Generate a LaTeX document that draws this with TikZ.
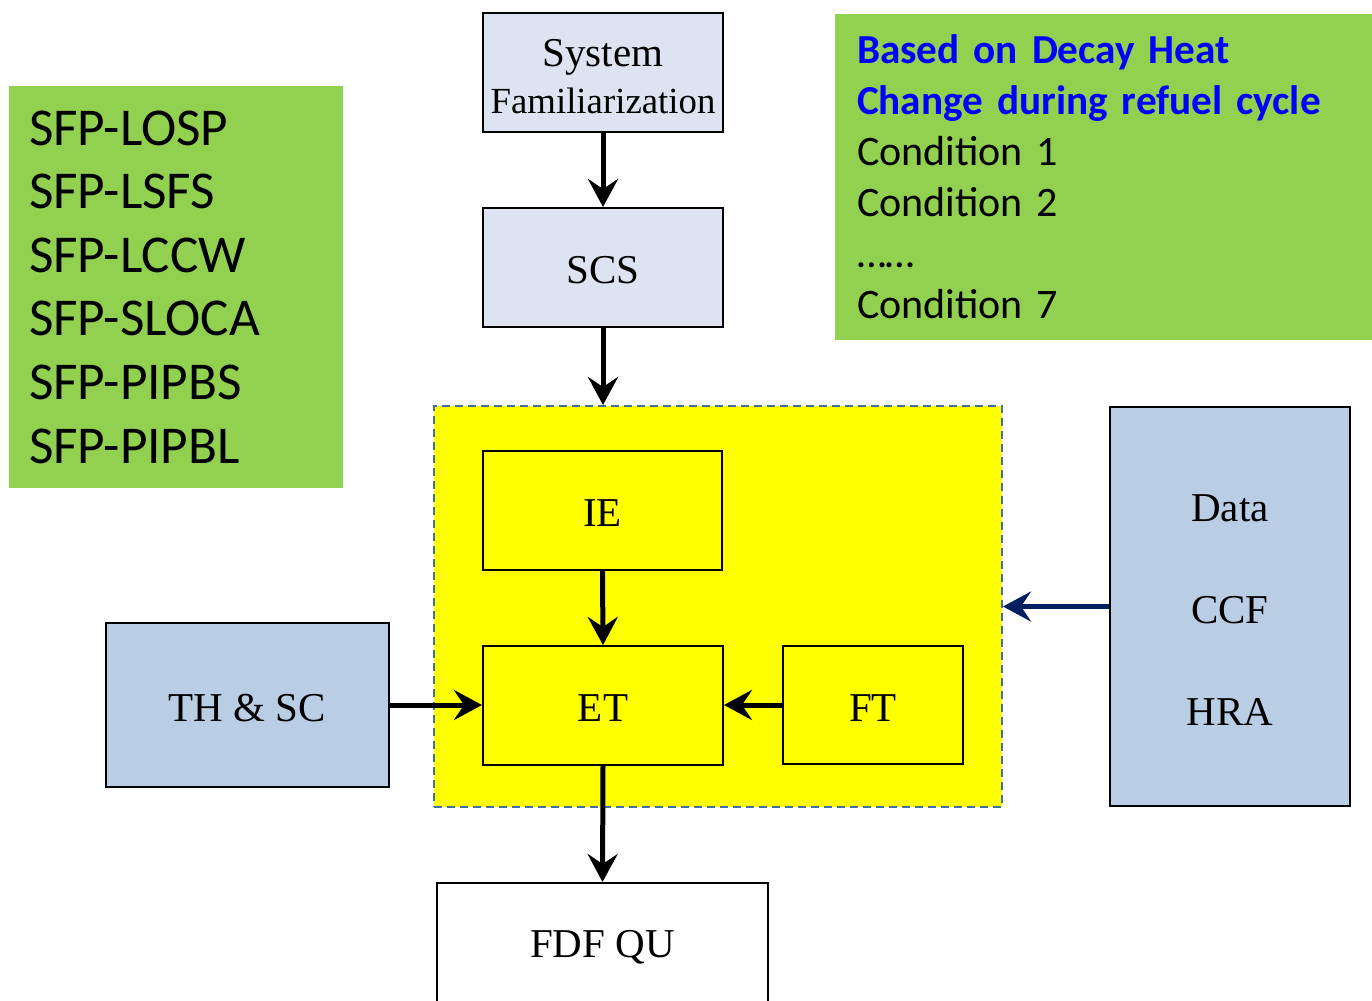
\documentclass[tikz,border=0pt]{standalone}
\usepackage{fontspec}
\setmainfont{Liberation Serif}
\newfontfamily\calib{Carlito}
\usetikzlibrary{arrows.meta}
\definecolor{lav}{HTML}{DDE3F0}
\definecolor{bgrey}{HTML}{B9CDE5}
\definecolor{grn}{HTML}{92D050}
\definecolor{yel}{HTML}{FFFF00}
\definecolor{dashc}{HTML}{41719C}
\definecolor{navy}{HTML}{002060}
\definecolor{pureblue}{HTML}{0000FF}
\newcommand\lowr[2][1.5pt]{\raisebox{-#1}[\height][\depth]{#2}}
\tikzset{
  box/.style={draw=black, line width=1pt, inner sep=0pt, align=center,
    font=\fontsize{20.5}{24}\selectfont},
  greenbox/.style={fill=grn, inner sep=0pt, align=left, text width=#1},
  flow/.style={line width=2.5pt, -{Stealth[length=14pt,width=15pt,inset=5pt]}},
}
\begin{document}
\begin{tikzpicture}[x=0.5pt,y=-0.5pt]
\useasboundingbox (0,0) rectangle (1372,1001);
\clip (0,0) rectangle (1372,1001);
% green info boxes
\node[greenbox=147pt, minimum width=167pt, minimum height=201pt,
  font=\calib\fontsize{26.6}{31.8}\selectfont] (losp) at (176,287)
  {SFP-LOSP\\SFP-LSFS\\SFP-LCCW\\SFP-SLOCA\\SFP-PIPBS\\SFP-PIPBL};
\node[greenbox=246.5pt, minimum width=268.5pt, minimum height=163pt,
  font=\calib\fontsize{21}{25.5}\selectfont] (decay) at (1103.5,177)
  {{\fontsize{20.6}{25.5}\selectfont\bfseries\color{pureblue}Based on Decay Heat}\\
   {\fontsize{20.6}{25.5}\selectfont\bfseries\color{pureblue}Change during refuel cycle}\\
   Condition 1\\Condition 2\\……\\Condition 7};
% top chain
\node[box, fill=lav, minimum width=120pt, minimum height=59.5pt,
  font=\fontsize{18.4}{23.5}\selectfont] (sysfam) at (603,72.5)
  {\lowr[2pt]{\fontsize{20.5}{23.5}\selectfont System}\\\lowr[2pt]{Familiarization}};
\node[box, fill=lav, minimum width=120pt, minimum height=59.5pt] (scs) at (603,267.5) {\lowr{SCS}};
% yellow group
\node[draw=dashc, line width=1pt, dash pattern=on 4pt off 2.5pt, fill=yel,
  inner sep=0pt, minimum width=284pt, minimum height=200.5pt] (grp) at (718,606.5) {};
\node[box, fill=yel, minimum width=119.5pt, minimum height=59.5pt] (ie) at (602.5,510.5) {\lowr{IE}};
\node[box, fill=yel, minimum width=120pt, minimum height=59.5pt] (et) at (603,705.5) {\lowr{ET}};
\node[box, fill=yel, minimum width=90pt, minimum height=59pt] (ft) at (873,705) {\lowr{FT}};
% side boxes
\node[box, fill=bgrey, minimum width=141.5pt, minimum height=82pt] (thsc) at (247.5,705) {\lowr{TH \& SC}};
\node[box, fill=bgrey, minimum width=120pt, minimum height=199.5pt,
  font=\fontsize{20.5}{51}\selectfont] (data) at (1230,606.5)
  {\lowr[2pt]{Data}\\\lowr[2pt]{CCF}\\\lowr[2pt]{HRA}};
\node[box, fill=white, minimum width=165.5pt, minimum height=120pt] (fdf) at (602.5,1003) {};
\node[font=\fontsize{20.5}{24}\selectfont] (fdftext) at (602.5,947) {FDF QU};
% connectors
\draw[flow] (sysfam.south) -- (scs.north);
\draw[flow] (scs.south) -- (scs.south |- grp.north);
\draw[flow] (ie.south) -- (et.north);
\draw[flow] (thsc.east) -- (thsc.east -| et.west);
\draw[flow] (ft.west) -- (ft.west -| et.east);
\draw[flow] (et.south) -- (fdf.north);
\draw[flow, draw=navy, fill=navy] (data.west) -- (data.west -| grp.east);
\end{tikzpicture}
\end{document}
